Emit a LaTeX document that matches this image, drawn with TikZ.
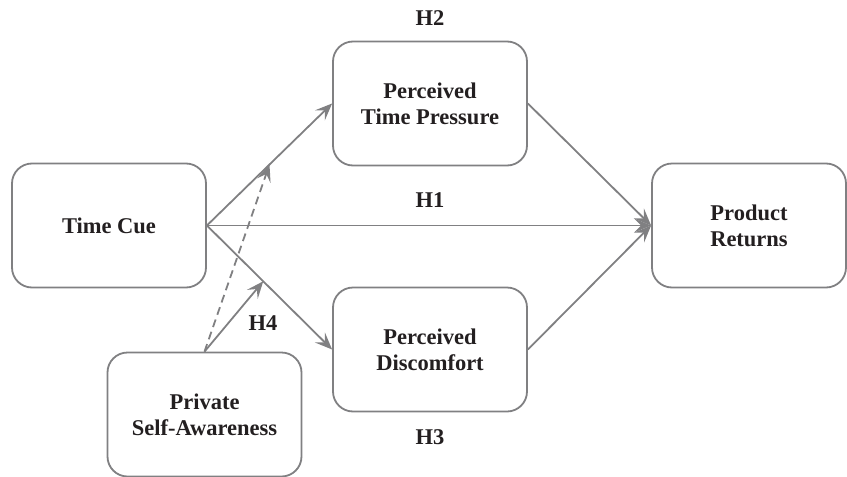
\documentclass[tikz,border=0pt]{standalone}
\usepackage{fontspec}
\setmainfont{Liberation Serif}
\usetikzlibrary{arrows.meta}
\definecolor{lc}{RGB}{128,128,130}
\definecolor{tc}{RGB}{35,31,32}
\tikzset{
  box/.style={draw=lc, line width=1.8pt, rounded corners=20pt, minimum width=194pt, minimum height=124pt, inner sep=0pt, align=center, font=\fontsize{22.5}{26}\selectfont\bfseries, text=tc},
  lab/.style={font=\fontsize{22.5}{26}\selectfont\bfseries, text=tc, inner sep=0pt},
  conn/.style={draw=lc, line width=1.8pt, -{Stealth[length=17pt, width=14pt, inset=7pt]}},
}
\begin{document}
\begin{tikzpicture}[x=1pt, y=-1pt]
\useasboundingbox (0,0) rectangle (847,477);
\node[box] (tc) at (109,225.5) {Time Cue};
\node[box] (ptp) at (430,103.5) {Perceived\\Time Pressure};
\node[box] (pd) at (430,349.5) {Perceived\\Discomfort};
\node[box] (pr) at (749,225.5) {Product\\Returns};
\node[box] (psa) at (204.5,414.5) {Private\\Self-Awareness};
\node[lab] (h2) at (430,18) {H2};
\node[lab] (h1) at (430,200) {H1};
\node[lab] (h3) at (430,437) {H3};
\node[lab] (h4) at (263,323) {H4};
\draw[conn] (tc.east) -- (ptp.west);
\draw[conn] (tc.east) -- (pd.west);
\draw[conn] (tc.east) -- (pr.west);
\draw[conn] (ptp.east) -- (pr.west);
\draw[conn] (pd.east) -- (pr.west);
\path (tc.east) -- (ptp.west) coordinate[pos=0.5] (m1);
\path (tc.east) -- (pd.west) coordinate[pos=0.45] (m2);
\draw[conn, dash pattern=on 8pt off 5pt] (psa.north) -- (m1);
\draw[conn] (psa.north) -- (m2);
\end{tikzpicture}
\end{document}
